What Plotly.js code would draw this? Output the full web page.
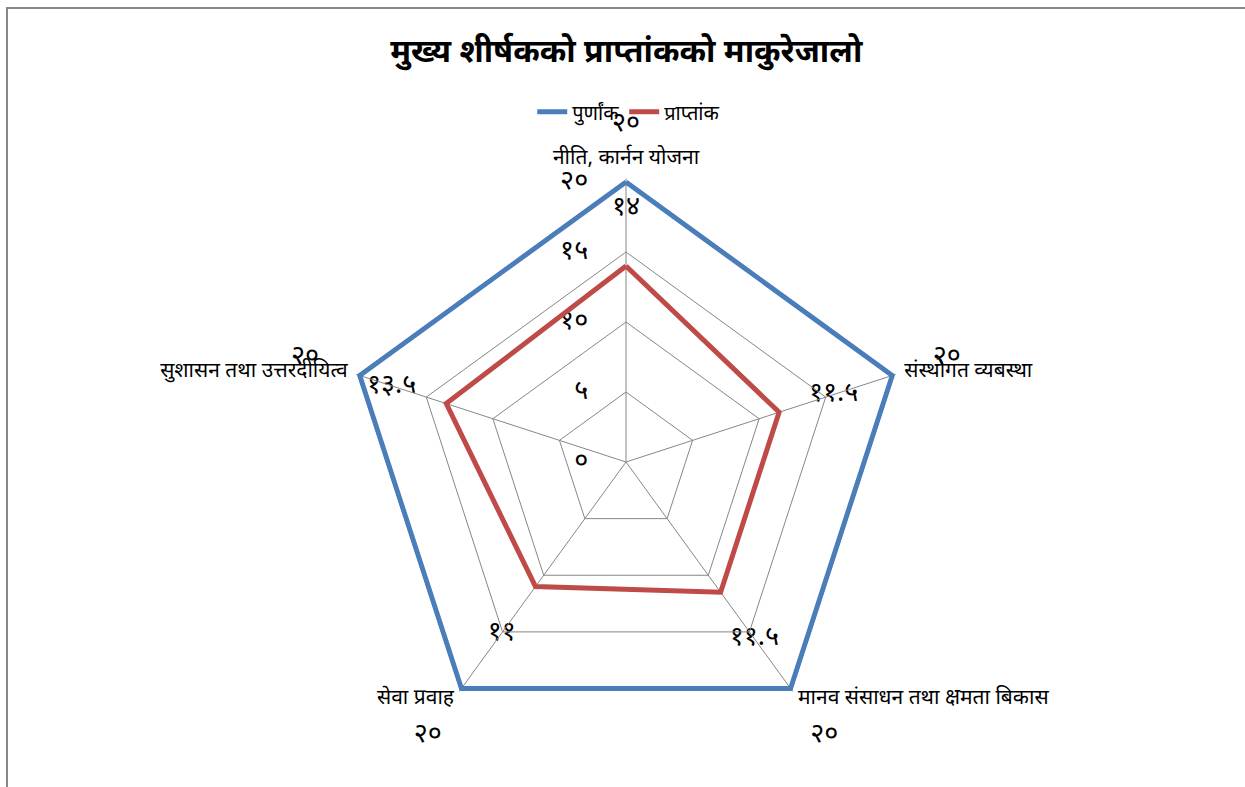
<!DOCTYPE html>
<html><head><meta charset="utf-8">
<script src="https://cdn.plot.ly/plotly-3.0.1.min.js"></script>
<style>html,body{margin:0;padding:0;background:#fff;}#chart{width:1245px;height:787px;}</style>
</head><body><div id="chart"></div>
<script>
const chartTitle = 'मुख्य शीर्षकको प्राप्तांकको माकुरेजालो';
const categories = ['नीति, कार्नन योजना', 'संस्थोगत व्यबस्था', 'मानव संसाधन तथा क्षमता बिकास', 'सेवा प्रवाह', 'सुशासन तथा उत्तरदीयित्व'];
const seriesNames = ['पुर्णांक', 'प्राप्तांक'];
const fullMarks = [20, 20, 20, 20, 20];
const obtained = [14, 11.5, 11.5, 11, 13.5];
const tickVals = [0, 5, 10, 15, 20];
const tickText = ['०', '५', '१०', '१५', '२०'];

// ---- styling / geometry constants ----
const W = 1245, H = 787;
const CX = 626, CY = 462;     // centre of the radar in pixels
const SCALE = 14;             // pixels per data unit
const RMAX = 20.25;           // radial range end
const LABEL_OFFSET = 4.1;     // data-label distance outside the point (data units)
const TICK_DX = 2.7;          // radial tick label distance left of the spoke (data units)
const CAT_PAD = 0.9;          // category label distance outside the outer ring (data units)
const catPositions = ['top center', 'middle right', 'middle right', 'middle left', 'middle left'];
const font = 'Noto Sans, DejaVu Sans, sans-serif';

const devDigits = ['०','१','२','३','४','५','६','७','८','९'];
const toDev = v => String(v).split('').map(c => /[0-9]/.test(c) ? devDigits[+c] : c).join('');
const close = a => a.concat([a[0]]);
const ang = i => i * 2 * Math.PI / categories.length;   // clockwise from top
const px = (vals, off) => vals.map((v, i) => (v + off) * Math.sin(ang(i)));
const py = (vals, off) => vals.map((v, i) => (v + off) * Math.cos(ang(i)));
const rOuter = tickVals[tickVals.length - 1];
const outerRing = categories.map(() => rOuter);

const traces = [
  {type:'scatterpolar', mode:'lines', name:seriesNames[0], r:close(fullMarks), theta:close(categories),
   line:{color:'#4A7EBB', width:5}, cliponaxis:false, hoverinfo:'r+theta'},
  {type:'scatterpolar', mode:'lines', name:seriesNames[1], r:close(obtained), theta:close(categories),
   line:{color:'#BE4B48', width:5}, cliponaxis:false, hoverinfo:'r+theta'},
  // category labels
  {type:'scatter', mode:'text', showlegend:false, hoverinfo:'skip', xaxis:'x', yaxis:'y',
   x:px(outerRing, CAT_PAD), y:py(outerRing, CAT_PAD), text:categories,
   textposition:catPositions, textfont:{size:21, color:'#000', family:font}},
  // data labels
  {type:'scatter', mode:'text', showlegend:false, hoverinfo:'skip', xaxis:'x', yaxis:'y',
   x:px(fullMarks, LABEL_OFFSET), y:py(fullMarks, LABEL_OFFSET), text:fullMarks.map(toDev),
   textposition:'middle center', textfont:{size:27, color:'#000', family:font}},
  {type:'scatter', mode:'text', showlegend:false, hoverinfo:'skip', xaxis:'x', yaxis:'y',
   x:px(obtained, LABEL_OFFSET), y:py(obtained, LABEL_OFFSET), text:obtained.map(toDev),
   textposition:'middle center', textfont:{size:27, color:'#000', family:font}},
  // radial axis tick labels
  {type:'scatter', mode:'text', showlegend:false, hoverinfo:'skip', xaxis:'x', yaxis:'y',
   x:tickVals.map(() => -TICK_DX), y:tickVals, text:tickText,
   textposition:'middle left', textfont:{size:27, color:'#000', family:font}}
];

const layout = {
  width:W, height:H, margin:{l:0,r:0,t:0,b:0},
  paper_bgcolor:'#fff', plot_bgcolor:'rgba(0,0,0,0)',
  font:{family:font, color:'#000'},
  title:{text:'<b>'+chartTitle+'</b>', x:0.503, xanchor:'center', y:0.936, yanchor:'middle',
         font:{size:32, color:'#000', family:font}},
  showlegend:true,
  legend:{orientation:'h', x:0.505, xanchor:'center', y:0.858, yanchor:'middle',
          font:{size:20, color:'#000', family:font}, bgcolor:'rgba(0,0,0,0)'},
  xaxis:{range:[-CX/SCALE, (W-CX)/SCALE], visible:false, fixedrange:true},
  yaxis:{range:[-(H-CY)/SCALE, CY/SCALE], visible:false, fixedrange:true},
  polar:{
    domain:{x:[(CX-RMAX*SCALE)/W, (CX+RMAX*SCALE)/W], y:[1-(CY+RMAX*SCALE)/H, 1-(CY-RMAX*SCALE)/H]},
    gridshape:'linear', bgcolor:'rgba(0,0,0,0)',
    angularaxis:{direction:'clockwise', rotation:90, showline:false, gridcolor:'#868686', gridwidth:1.2,
                 ticks:'', showticklabels:false},
    radialaxis:{range:[0,RMAX], angle:90, tickvals:tickVals, showticklabels:false,
                showline:false, ticks:'', gridcolor:'#868686', gridwidth:1.2}
  },
  shapes:[{type:'rect', xref:'paper', yref:'paper', x0:7/W, x1:1.02, y0:-0.02, y1:1-8/H,
           line:{color:'#888', width:2}, fillcolor:'rgba(0,0,0,0)'}]
};
Plotly.newPlot('chart', traces, layout, {displayModeBar:false});
</script></body></html>
